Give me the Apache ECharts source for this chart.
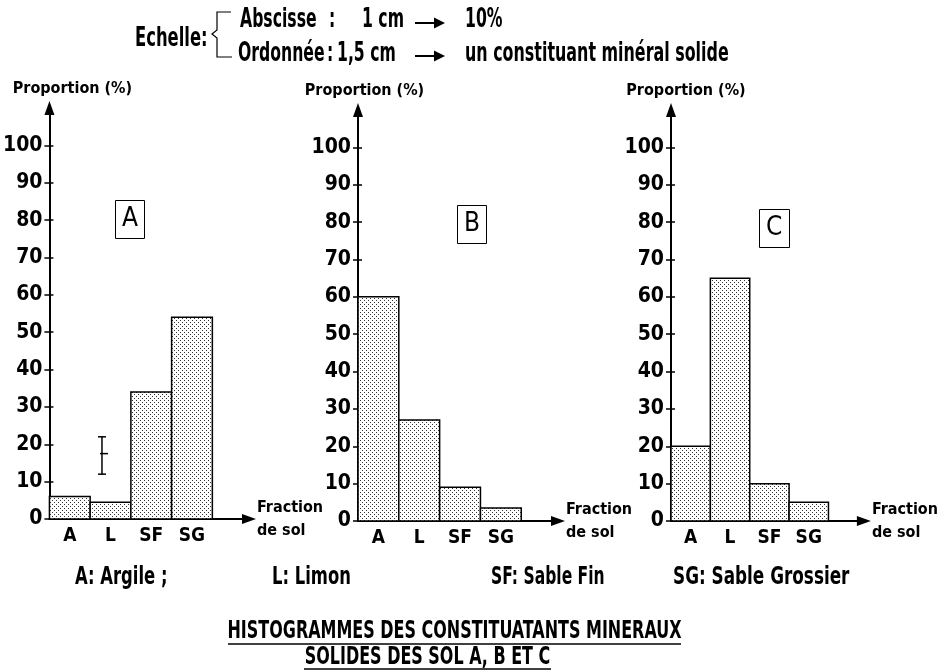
<!DOCTYPE html>
<html>
<head>
<meta charset="utf-8">
<script src="https://cdn.jsdelivr.net/npm/echarts@6/dist/echarts.min.js"></script>
<style>
  html, body { margin: 0; padding: 0; background: #fff; }
  #main { width: 941px; height: 672px; }
</style>
</head>
<body>
<div id="main"></div>
<script>
const categories = ['A', 'L', 'SF', 'SG'];
const solA = [6, 4.5, 34, 54];
const solB = [60, 27, 9, 3.5];
const solC = [20, 65, 10, 5];
const yTicks = [0, 10, 20, 30, 40, 50, 60, 70, 80, 90, 100];
// repère d'échelle dessiné dans l'histogramme A : [x, bas, milieu, haut]
const scaleMark = [[1.29, 12, 17.5, 22]];
const panelNames = ['A', 'B', 'C'];

const FONT = "'DejaVu Sans Condensed', 'DejaVu Sans', sans-serif";

// trame pointillée des barres
const pat = document.createElement('canvas');
pat.width = 4; pat.height = 4;
const pctx = pat.getContext('2d');
pctx.fillStyle = '#fff';
pctx.fillRect(0, 0, 4, 4);
pctx.fillStyle = '#333';
pctx.fillRect(0, 0, 1, 1);
pctx.fillRect(2, 2, 1, 1);

let myChart = echarts.init(document.getElementById('main'));

function renderBar(params, api) {
  const i = api.value(0), v = api.value(1);
  const p0 = api.coord([i, 0]);
  const p1 = api.coord([i + 1, v]);
  return {
    type: 'rect',
    shape: { x: p0[0], y: p1[1], width: p1[0] - p0[0], height: p0[1] - p1[1] },
    style: { fill: { image: pat, repeat: 'repeat' }, stroke: '#000', lineWidth: 1.5 }
  };
}

function renderMark(params, api) {
  const lo = api.coord([api.value(0), api.value(1)]);
  const mid = api.coord([api.value(0), api.value(2)]);
  const hi = api.coord([api.value(0), api.value(3)]);
  const st = { stroke: '#000', lineWidth: 1.5 };
  return {
    type: 'group',
    children: [
      { type: 'line', shape: { x1: lo[0], y1: lo[1], x2: hi[0], y2: hi[1] }, style: st },
      { type: 'line', shape: { x1: lo[0] - 4, y1: lo[1], x2: lo[0] + 4, y2: lo[1] }, style: st },
      { type: 'line', shape: { x1: hi[0] - 4, y1: hi[1], x2: hi[0] + 4, y2: hi[1] }, style: st },
      { type: 'line', shape: { x1: mid[0] - 2, y1: mid[1], x2: mid[0] + 6, y2: mid[1] }, style: st }
    ]
  };
}

const panels = [
  { left: 49, top: 108, namePad: 46, data: solA, box: [115, 200] },
  { left: 358, top: 110, namePad: 13, data: solB, box: [457, 205] },
  { left: 671, top: 110, namePad: 30, data: solC, box: [759, 209] }
];

const grids = [], xAxes = [], yAxes = [], series = [], titles = [];
panels.forEach(function (p, k) {
  grids.push({ left: p.left, top: p.top, width: 200, height: 411 });
  xAxes.push({
    type: 'value', gridIndex: k, min: 0, max: 4.9,
    axisLine: { show: true, symbol: ['none', 'triangle'], symbolSize: [10, 14], lineStyle: { color: '#000', width: 2 } },
    axisTick: { show: false },
    splitLine: { show: false },
    axisLabel: {
      customValues: [0.5, 1.5, 2.5, 3.5],
      formatter: function (v) { return categories[Math.floor(v)]; },
      color: '#000', fontFamily: FONT, fontWeight: 'bold', fontSize: 19, margin: 8
    },
    name: 'Fraction\nde sol', nameLocation: 'end', nameGap: 8,
    nameTextStyle: { color: '#000', fontFamily: FONT, fontWeight: 'bold', fontSize: 16, lineHeight: 23, padding: [14, 0, 0, 0] }
  });
  yAxes.push({
    type: 'value', gridIndex: k, min: 0, max: 110,
    axisLine: { show: true, symbol: ['none', 'triangle'], symbolSize: [10, 14], lineStyle: { color: '#000', width: 2 } },
    axisTick: { show: true, customValues: yTicks, length: 5, lineStyle: { color: '#000', width: 1.5 } },
    splitLine: { show: false },
    axisLabel: { customValues: yTicks, color: '#000', fontFamily: FONT, fontWeight: 'bold', fontSize: 21, margin: 7 },
    name: 'Proportion (%)', nameLocation: 'end', nameGap: 11,
    nameTextStyle: { color: '#000', fontFamily: FONT, fontWeight: 'bold', fontSize: 16, padding: [0, 0, 0, p.namePad] }
  });
  // petits traits vers l'intérieur pour que les graduations croisent l'axe
  yAxes.push({
    type: 'value', gridIndex: k, min: 0, max: 110, position: 'left',
    axisLine: { show: false },
    axisTick: { show: true, inside: true, customValues: yTicks, length: 4, lineStyle: { color: '#000', width: 1.5 } },
    splitLine: { show: false },
    axisLabel: { show: false }
  });
  series.push({
    type: 'custom', xAxisIndex: k, yAxisIndex: k * 2, silent: true,
    data: p.data.map(function (v, i) { return [i, v]; }),
    renderItem: renderBar
  });
  titles.push({
    text: panelNames[k], left: p.box[0], top: p.box[1],
    borderColor: '#000', borderWidth: 1, padding: [6, 7],
    textStyle: { fontFamily: FONT, fontWeight: 'normal', fontSize: 26, lineHeight: 27, color: '#000' }
  });
});
series.push({
  type: 'custom', xAxisIndex: 0, yAxisIndex: 0, silent: true,
  data: scaleMark, renderItem: renderMark
});

// texte en gras, resserré horizontalement (police étroite de l'original)
function txt(s, x, y, size, sx, align) {
  return {
    type: 'text', x: x, y: y, scaleX: sx, silent: true,
    style: { text: s, fontFamily: FONT, fontWeight: 'bold', fontSize: size, fill: '#000', align: align || 'left', verticalAlign: 'middle' }
  };
}
function arrow(x1, x2, y) {
  return {
    type: 'group', silent: true,
    children: [
      { type: 'line', shape: { x1: x1, y1: y, x2: x2 - 8, y2: y }, style: { stroke: '#000', lineWidth: 2 } },
      { type: 'polygon', shape: { points: [[x2 - 11, y - 5.5], [x2, y], [x2 - 11, y + 5.5]] }, style: { fill: '#000' } }
    ]
  };
}
function hline(x1, x2, y) {
  return { type: 'line', silent: true, shape: { x1: x1, y1: y, x2: x2, y2: y }, style: { stroke: '#000', lineWidth: 1.5 } };
}

const H = 0.67;
const graphics = [
  txt('Echelle:', 135, 39, 26, 0.7),
  { type: 'polyline', silent: true, shape: { points: [[231, 12], [217, 12], [217, 30], [212, 34], [217, 38], [217, 57], [232, 57]] }, style: { stroke: '#000', lineWidth: 1.2, fill: null } },
  txt('Abscisse', 240, 20, 26, H), txt(':', 329, 20, 26, H), txt('1 cm', 362, 20, 26, H),
  arrow(415, 445, 23), txt('10%', 465, 20, 26, H),
  txt('Ordonnée', 238, 54, 26, H), txt(':', 327, 54, 26, H), txt('1,5 cm', 337, 54, 26, H),
  arrow(415, 445, 56), txt('un constituant minéral solide', 465, 54, 26, 0.68),
  txt('A: Argile ;', 75, 578, 24, 0.76), txt('L: Limon', 272, 578, 24, 0.76),
  txt('SF: Sable Fin', 491, 578, 24, 0.72), txt('SG: Sable Grossier', 673, 578, 24, 0.78),
  txt('HISTOGRAMMES DES CONSTITUATANTS MINERAUX', 454.5, 631, 25, 0.71, 'center'),
  hline(228, 681, 644),
  txt('SOLIDES DES SOL A, B ET C', 427.5, 657, 25, 0.71, 'center'),
  hline(304, 551, 669)
];

myChart.setOption({
  backgroundColor: '#fff',
  animation: false,
  title: titles,
  grid: grids,
  xAxis: xAxes,
  yAxis: yAxes,
  series: series,
  graphic: graphics
});
</script>
</body>
</html>
